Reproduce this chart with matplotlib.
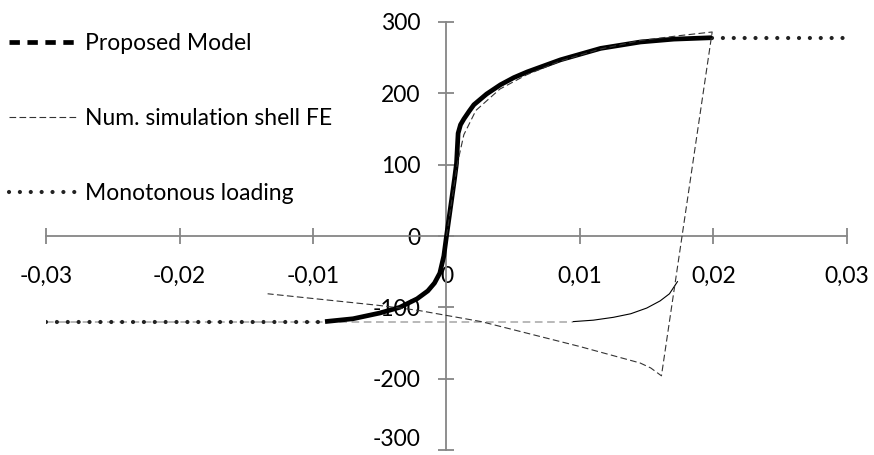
import numpy as np
import matplotlib
matplotlib.use("Agg")
import matplotlib.pyplot as plt
from matplotlib.lines import Line2D

plt.rcParams['font.family'] = ['Lato', 'DejaVu Sans']
plt.rcParams['axes.unicode_minus'] = False

# --- данные ---
# Proposed Model
model_x = [-0.0091, -0.0070, -0.0050, -0.0035, -0.0022, -0.0014, -0.0009, -0.0005,
           -0.0002, 0.0, 0.0003, 0.0006, 0.00075, 0.00087, 0.00105, 0.0013,
           0.0017, 0.00205, 0.0030, 0.00404, 0.00504, 0.00604, 0.00854, 0.01154,
           0.01453, 0.01703, 0.0199]
model_y = [-120, -116, -108, -100, -88, -77, -66, -52,
           -28, 0, 40, 80, 102, 144, 156, 164,
           175, 184, 199, 212, 222, 230, 247, 263,
           272, 276, 278]

# Num. simulation shell FE
fe_x = [0.0, 0.0004, 0.0008, 0.0013, 0.0022, 0.0040, 0.0060, 0.0085, 0.0115,
        0.0145, 0.0175, 0.0199, 0.0161, 0.0153, 0.0145, 0.0100, 0.0026,
        -0.0022, -0.0052, -0.0134]
fe_y = [0, 50, 100, 142, 176, 206, 226, 245, 262,
        274, 281, 286, -196, -185, -178, -155, -120,
        -104, -97, -81]

# повторное нагружение (без подписи в легенде)
reload_x = [-0.030, 0.0095, 0.0110, 0.0125, 0.0138, 0.0150, 0.0160, 0.0167, 0.0173]
reload_y = [-120, -120, -118, -114, -109, -101, -91, -81, -64]

# Monotonous loading (видны только плато)
mono_x = [-0.030, -0.0091, np.nan, 0.0199, 0.030]
mono_y = [-120, -120, np.nan, 278, 278]

xticks = [-0.03, -0.02, -0.01, 0.0, 0.01, 0.02, 0.03]
xtick_labels = ['-0,03', '-0,02', '-0,01', '0', '0,01', '0,02', '0,03']
yticks = [-300, -200, -100, 0, 100, 200, 300]
ytick_labels = ['-300', '-200', '-100', '0', '100', '200', '300']

labels = ['Proposed Model', 'Num. simulation shell FE', 'Monotonous loading']

# --- график ---
fig = plt.figure(figsize=(8.74, 4.55), dpi=100)
ax = fig.add_axes([46/874, 1 - 450/455, (847 - 46)/874, (450 - 22)/455])

grey = '#868686'
ax.plot(reload_x[:2], reload_y[:2], color='#a6a6a6', lw=1.1, ls=(0, (5, 3)), zorder=2)
ax.plot(reload_x[1:], reload_y[1:], color='black', lw=0.8, zorder=2)
ax.plot(mono_x, mono_y, color='#222222', lw=3.0, ls=(0, (0.01, 2.6)),
        dash_capstyle='round', zorder=3)
ax.plot(model_x, model_y, color='black', lw=3.4, solid_capstyle='butt',
        solid_joinstyle='round', zorder=4)
ax.plot(fe_x, fe_y, color='#333333', lw=0.8, ls=(0, (6, 3)), zorder=5)

ax.set_xlim(-0.03, 0.03)
ax.set_ylim(-300, 300)
for side in ['top', 'right']:
    ax.spines[side].set_visible(False)
for side in ['left', 'bottom']:
    ax.spines[side].set_position(('data', 0))
    ax.spines[side].set_color(grey)
    ax.spines[side].set_linewidth(1.3)
ax.set_xticks(xticks)
ax.set_xticklabels(xtick_labels)
ax.set_yticks(yticks)
ax.set_yticklabels(ytick_labels)
ax.tick_params(axis='both', direction='inout', length=11, width=1.3, color=grey,
               labelsize=16.5, labelcolor='black')
ax.tick_params(axis='x', pad=16)
ax.tick_params(axis='y', pad=13)
# нижняя подпись сдвинута вверх, чтобы не обрезалась
ax.get_yticklabels()[0].set_verticalalignment('bottom')

handles = [Line2D([], [], color='black', lw=3.4, ls=(0, (2.2, 1.6))),
           Line2D([], [], color='#333333', lw=0.8, ls=(0, (6, 3))),
           Line2D([], [], color='#222222', lw=3.0, ls=(0, (0.01, 2.6)),
                  dash_capstyle='round')]
fig.legend(handles, labels, loc='upper left', bbox_to_anchor=(0.0, 0.948),
           frameon=False, fontsize=16.5, handlelength=3.0, handletextpad=0.3,
           labelspacing=2.35, borderaxespad=0.0)

fig.savefig('out.png', dpi=100)
